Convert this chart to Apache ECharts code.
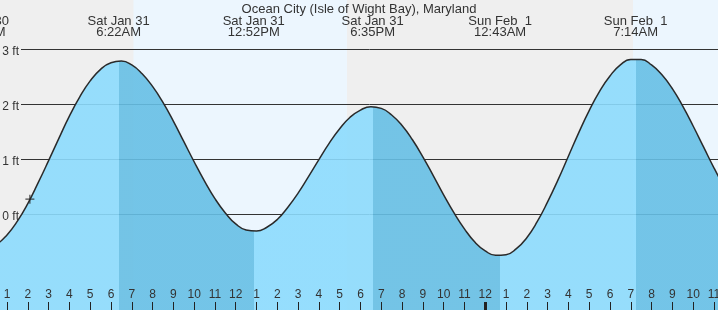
<!DOCTYPE html>
<html><head><meta charset="utf-8">
<script src="https://cdn.jsdelivr.net/npm/echarts@6/dist/echarts.min.js"></script>
<style>html,body{margin:0;padding:0;background:#efefef}#c{width:718px;height:310px}</style>
</head><body><div id="c"></div>
<script>
// Tide heights (ft) read every half hour from the chart; hours counted from midnight Sat Jan 31
const tideHours = [-1, -0.5, 0, 0.5, 1, 1.5, 2, 2.5, 3, 3.5, 4, 4.5, 5, 5.5, 6, 6.5, 7, 7.5, 8, 8.5, 9, 9.5, 10, 10.5, 11, 11.5, 12, 12.5, 13, 13.5, 14, 14.5, 15, 15.5, 16, 16.5, 17, 17.5, 18, 18.5, 19, 19.5, 20, 20.5, 21, 21.5, 22, 22.5, 23, 23.5, 24, 24.5, 25, 25.5, 26, 26.5, 27, 27.5, 28, 28.5, 29, 29.5, 30, 30.5, 31, 31.5, 32, 32.5, 33, 33.5, 34, 34.5, 35, 35.5, 36];
const tideFeet = [-0.54, -0.60, -0.62, -0.55, -0.38, -0.13, 0.19, 0.57, 0.97, 1.38, 1.78, 2.13, 2.42, 2.63, 2.75, 2.78, 2.71, 2.55, 2.32, 2.03, 1.69, 1.32, 0.95, 0.60, 0.28, 0.02, -0.18, -0.29, -0.31, -0.24, -0.10, 0.12, 0.38, 0.68, 0.99, 1.29, 1.55, 1.76, 1.89, 1.95, 1.92, 1.80, 1.61, 1.35, 1.04, 0.70, 0.35, 0.02, -0.27, -0.51, -0.67, -0.75, -0.74, -0.63, -0.43, -0.14, 0.22, 0.62, 1.05, 1.48, 1.88, 2.23, 2.51, 2.71, 2.81, 2.81, 2.71, 2.53, 2.28, 1.96, 1.60, 1.22, 0.84, 0.49, 0.17];

// high / low tide times (hours) and their labels
const extremeHours = [-0.3, 6.367, 12.867, 18.583, 24.717, 31.233];
const extremeTypes = ['low', 'high', 'low', 'high', 'low', 'high'];
const extremeLabels = ['Fri Jan 30\n11:42PM', 'Sat Jan 31\n6:22AM', 'Sat Jan 31\n12:52PM', 'Sat Jan 31\n6:35PM', 'Sun Feb  1\n12:43AM', 'Sun Feb  1\n7:14AM'];

const sunrise = [7.08, 31.11];
const sunset = [17.35, 41.4];

const hourTicks = [1, 2, 3, 4, 5, 6, 7, 8, 9, 10, 11, 12, 13, 14, 15, 16, 17, 18, 19, 20, 21, 22, 23, 24, 25, 26, 27, 28, 29, 30, 31, 32, 33, 34, 35];
const midnightTicks = [24];
const depthTicks = [0, 1, 2, 3];
const nowPoint = [[2.1, 0.27]];

const titleText = 'Ocean City (Isle of Wight Bay), Maryland';

// view window
const xMin = 0.663, xMax = 35.196;
const pxPerHour = 718 / (xMax - xMin);
const topMin = xMin - 60 / pxPerHour;

const FONT = '"Liberation Sans", Arial, sans-serif';
const TXT = '#333';

const pts = tideHours.map((h, i) => [h, tideFeet[i]]);
const rising = [];
for (let k = 0; k < extremeHours.length - 1; k++) {
  if (extremeTypes[k] === 'low') rising.push({ gte: extremeHours[k], lt: extremeHours[k + 1], color: '#8cdbfd' });
}
const hourLabel = h => String((((h % 12) + 12) % 12) || 12);
const extremeLabel = v => {
  let best = 0;
  extremeHours.forEach((e, i) => { if (Math.abs(e - v) < Math.abs(extremeHours[best] - v)) best = i; });
  return extremeLabels[best];
};

const chart = echarts.init(document.getElementById('c'), null, { renderer: 'canvas' });
chart.setOption({
  animation: false,
  backgroundColor: '#efefef',
  title: { text: titleText, left: 'center', top: 3, padding: 0, z: 10,
    textStyle: { fontFamily: FONT, fontSize: 13, fontWeight: 'normal', color: TXT } },
  grid: [
    { left: 0, right: 0, top: 0, bottom: 0, outerBoundsMode: 'none', containLabel: false },
    { left: 21, right: 0, top: 49, bottom: 96, outerBoundsMode: 'none', containLabel: false },
    { left: -60, right: 0, top: 0, bottom: 0, outerBoundsMode: 'none', containLabel: false }
  ],
  xAxis: [
    { gridIndex: 0, type: 'value', min: xMin, max: xMax, position: 'bottom', z: 4,
      axisLine: { show: false, onZero: false }, splitLine: { show: false },
      axisTick: { show: true, inside: true, length: 8, customValues: hourTicks, lineStyle: { color: '#222', width: 1 } },
      axisLabel: { inside: true, margin: 9, customValues: hourTicks, formatter: hourLabel, hideOverlap: false,
        fontFamily: FONT, fontSize: 12, lineHeight: 12, color: TXT } },
    { gridIndex: 0, type: 'value', min: xMin, max: xMax, position: 'bottom', z: 4, offset: 0,
      axisLine: { show: false, onZero: false }, splitLine: { show: false },
      axisTick: { show: true, inside: true, length: 8, customValues: midnightTicks, lineStyle: { color: '#222', width: 3 } },
      axisLabel: { show: false } },
    { gridIndex: 1, type: 'value', min: xMin, max: xMax, show: false, axisLine: { onZero: false } },
    { gridIndex: 2, type: 'value', min: topMin, max: xMax, position: 'top', z: 6,
      axisLine: { show: false, onZero: false }, axisTick: { show: false }, splitLine: { show: false },
      axisLabel: { inside: true, margin: 16, customValues: extremeHours, formatter: extremeLabel, hideOverlap: false,
        fontFamily: FONT, fontSize: 13, lineHeight: 11, color: TXT, align: 'center' } }
  ],
  yAxis: [
    { gridIndex: 0, type: 'value', min: -1.745, max: 3.891, show: false },
    { gridIndex: 1, type: 'value', min: 0, max: 3, interval: 1, z: 1.5,
      axisLine: { show: false }, axisTick: { show: false },
      splitLine: { show: true, lineStyle: { color: '#333', width: 1 } },
      axisLabel: { margin: 2, verticalAlign: 'top', lineHeight: 6, formatter: v => v + ' ft',
        fontFamily: FONT, fontSize: 12, color: TXT } },
    { gridIndex: 2, type: 'value', show: false }
  ],
  visualMap: { type: 'piecewise', show: false, dimension: 0, seriesIndex: 1,
    pieces: rising, outOfRange: { color: '#66bfe5' } },
  series: [
    { type: 'line', xAxisIndex: 0, yAxisIndex: 0, data: pts, showSymbol: false, silent: true,
      lineStyle: { width: 0, opacity: 0 }, itemStyle: { opacity: 0 }, z: 1,
      markArea: { silent: true, itemStyle: { color: '#ecf6fe' },
        data: sunrise.map((s, i) => [{ xAxis: s }, { xAxis: sunset[i] }]) } },
    { type: 'line', xAxisIndex: 0, yAxisIndex: 0, data: pts, smooth: 0.5, showSymbol: false, silent: true,
      lineStyle: { width: 0 }, areaStyle: { opacity: 0.9, origin: 'start' }, z: 2 },
    { type: 'line', xAxisIndex: 0, yAxisIndex: 0, data: pts, smooth: 0.5, showSymbol: false, silent: true,
      lineStyle: { color: '#2a2a2a', width: 1.5 }, z: 3 },
    { type: 'scatter', xAxisIndex: 0, yAxisIndex: 0, data: nowPoint, silent: true,
      symbol: 'path://M0,5L10,5M5,0L5,10', symbolSize: 9,
      itemStyle: { color: 'rgba(0,0,0,0)', borderColor: '#222', borderWidth: 1.2 }, z: 5 }
  ]
});
</script></body></html>
